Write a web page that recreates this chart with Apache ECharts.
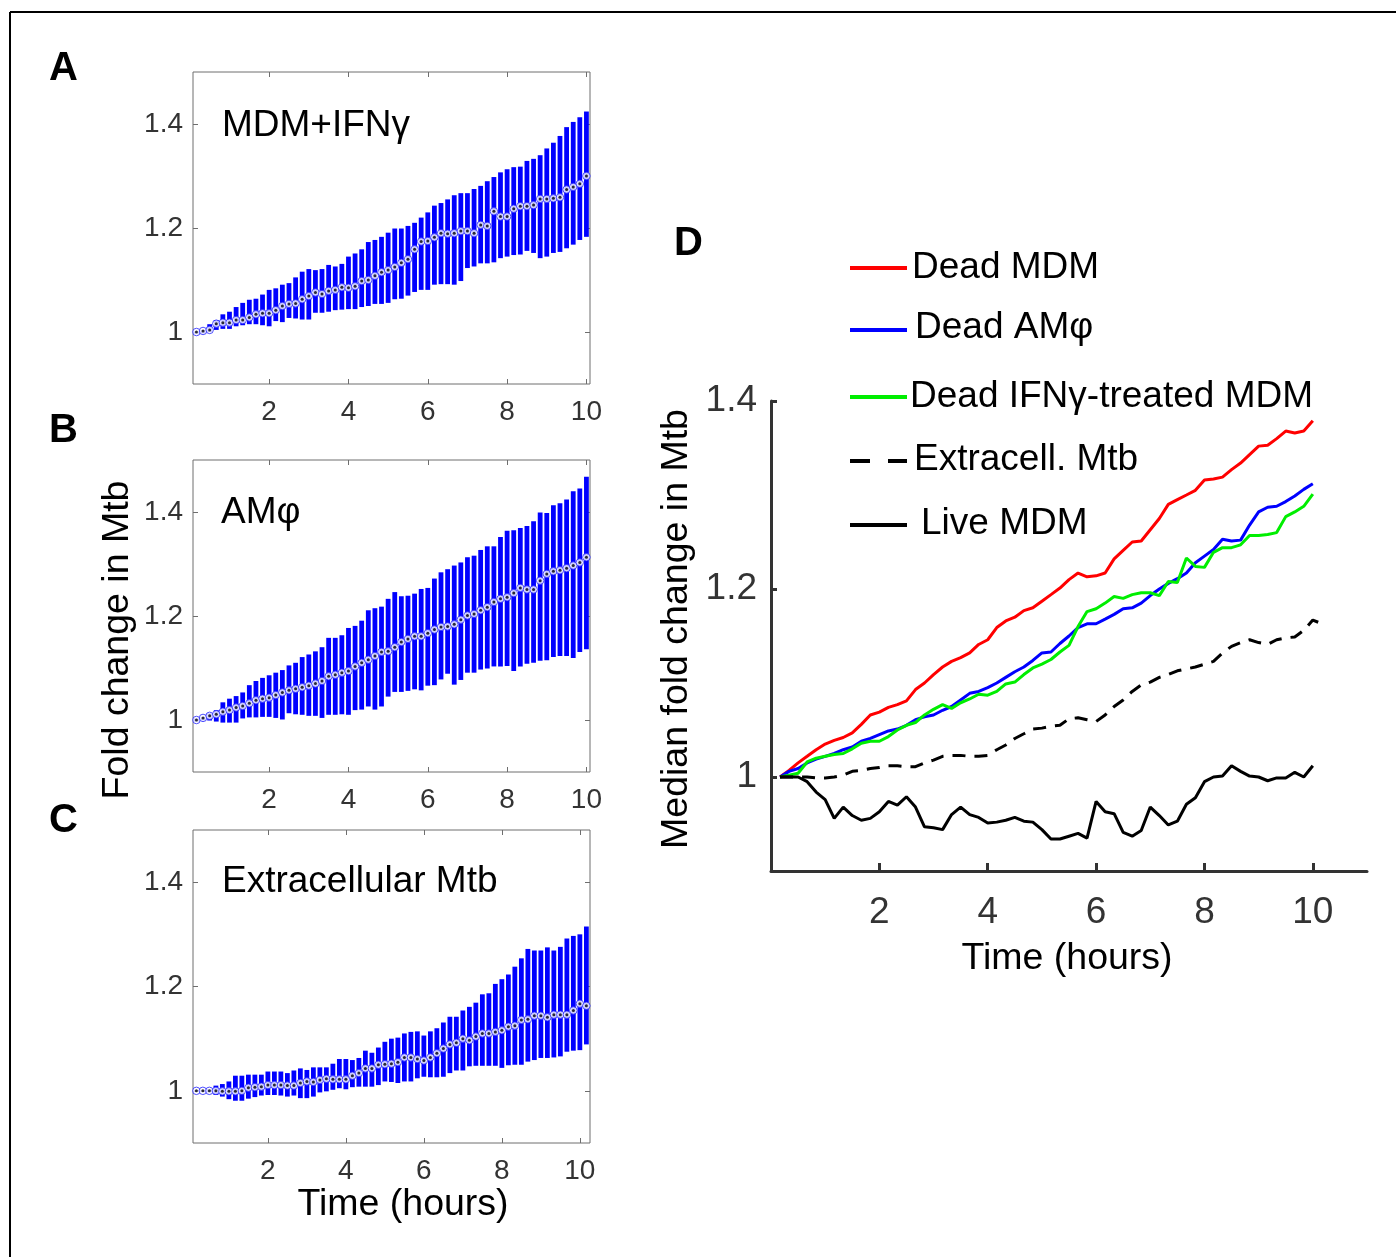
<!DOCTYPE html>
<html>
<head>
<meta charset="utf-8">
<script src="https://cdn.jsdelivr.net/npm/echarts@6/dist/echarts.min.js"></script>
<style>
html,body{margin:0;padding:0;background:#fff;}
#chart{width:1396px;height:1257px;}
</style>
</head>
<body>
<div id="chart"></div>
<script>
// ---------- DATA ----------
const times = [0.167,0.333,0.5,0.667,0.833,1,1.167,1.333,1.5,1.667,1.833,2,2.167,2.333,2.5,2.667,2.833,3,3.167,3.333,3.5,3.667,3.833,4,4.167,4.333,4.5,4.667,4.833,5,5.167,5.333,5.5,5.667,5.833,6,6.167,6.333,6.5,6.667,6.833,7,7.167,7.333,7.5,7.667,7.833,8,8.167,8.333,8.5,8.667,8.833,9,9.167,9.333,9.5,9.667,9.833,10,10.167];
const xTicks = [2,4,6,8,10];
const yTicks = [1,1.2,1.4];

// Panel A: MDM+IFNγ
const aMed = [1.000,1.002,1.004,1.016,1.018,1.018,1.023,1.023,1.028,1.034,
1.036,1.036,1.042,1.050,1.054,1.055,1.063,1.069,1.076,1.073,
1.079,1.081,1.086,1.085,1.088,1.098,1.100,1.108,1.115,1.119,
1.125,1.133,1.140,1.159,1.174,1.175,1.182,1.190,1.189,1.190,
1.194,1.194,1.190,1.206,1.204,1.232,1.222,1.222,1.237,1.242,
1.242,1.244,1.256,1.256,1.257,1.259,1.274,1.279,1.285,1.300];
const aHigh = [1.001,1.004,1.015,1.023,1.034,1.039,1.048,1.056,1.062,1.064,
1.072,1.081,1.084,1.091,1.094,1.105,1.116,1.121,1.119,1.121,
1.129,1.126,1.131,1.145,1.151,1.159,1.173,1.177,1.183,1.191,
1.199,1.199,1.204,1.210,1.220,1.230,1.243,1.248,1.255,1.263,
1.267,1.267,1.275,1.281,1.290,1.298,1.307,1.313,1.317,1.318,
1.329,1.333,1.340,1.353,1.364,1.377,1.394,1.404,1.413,1.424];
const aLow = [0.997,0.997,1.000,1.004,1.006,1.006,1.011,1.013,1.015,1.015,
1.013,1.011,1.021,1.019,1.027,1.026,1.024,1.024,1.037,1.037,
1.039,1.042,1.043,1.044,1.044,1.048,1.050,1.054,1.054,1.056,
1.063,1.064,1.070,1.077,1.081,1.081,1.091,1.092,1.092,1.091,
1.098,1.123,1.126,1.132,1.132,1.134,1.142,1.145,1.148,1.149,
1.156,1.152,1.142,1.145,1.152,1.154,1.161,1.168,1.177,1.183];

// Panel B: AMφ
const bMed = [1.000,1.004,1.008,1.011,1.016,1.019,1.024,1.027,1.032,1.038,
1.041,1.043,1.048,1.053,1.057,1.060,1.063,1.066,1.070,1.075,
1.084,1.087,1.091,1.094,1.103,1.110,1.116,1.123,1.131,1.132,
1.140,1.150,1.156,1.161,1.161,1.167,1.174,1.179,1.180,1.184,
1.193,1.201,1.204,1.211,1.217,1.227,1.233,1.236,1.244,1.254,
1.251,1.251,1.268,1.281,1.286,1.288,1.292,1.297,1.303,1.313];
const bHigh = [1.003,1.006,1.013,1.019,1.034,1.041,1.046,1.053,1.067,1.075,
1.081,1.086,1.091,1.096,1.105,1.110,1.121,1.126,1.132,1.140,
1.158,1.158,1.163,1.177,1.181,1.191,1.211,1.215,1.218,1.233,
1.246,1.238,1.239,1.243,1.252,1.254,1.272,1.284,1.290,1.297,
1.303,1.313,1.316,1.327,1.334,1.334,1.352,1.364,1.365,1.369,
1.373,1.382,1.399,1.398,1.413,1.417,1.424,1.440,1.445,1.468];
const bLow = [0.997,0.999,0.999,0.997,0.995,0.995,0.995,1.003,1.005,1.005,
1.006,1.006,1.004,1.001,1.013,1.011,1.010,1.008,1.008,1.004,
1.010,1.010,1.011,1.010,1.019,1.020,1.026,1.020,1.026,1.045,
1.054,1.054,1.056,1.059,1.057,1.066,1.067,1.078,1.089,1.068,
1.077,1.091,1.091,1.097,1.099,1.103,1.103,1.104,1.094,1.103,
1.108,1.110,1.114,1.115,1.121,1.123,1.123,1.119,1.131,1.136];

// Panel C: Extracellular Mtb
const cMed = [1.000,1.000,1.000,1.000,0.999,0.999,0.999,1.000,1.006,1.007,
1.008,1.011,1.011,1.011,1.010,1.010,1.015,1.018,1.017,1.021,
1.023,1.022,1.022,1.022,1.029,1.034,1.043,1.043,1.050,1.051,
1.052,1.055,1.064,1.064,1.061,1.058,1.064,1.072,1.081,1.089,
1.092,1.100,1.097,1.104,1.110,1.110,1.113,1.116,1.123,1.125,
1.136,1.137,1.144,1.144,1.141,1.146,1.146,1.146,1.154,1.167,
1.163];
const cHigh = [1.001,1.002,1.003,1.010,1.013,1.018,1.029,1.029,1.031,1.031,
1.031,1.037,1.037,1.037,1.034,1.039,1.043,1.040,1.045,1.045,
1.045,1.052,1.061,1.061,1.059,1.063,1.077,1.073,1.083,1.094,
1.100,1.102,1.110,1.113,1.114,1.106,1.114,1.120,1.131,1.142,
1.142,1.154,1.161,1.169,1.185,1.187,1.205,1.214,1.223,1.238,
1.254,1.272,1.269,1.269,1.275,1.269,1.276,1.292,1.297,1.300,
1.315];
const cLow = [0.999,0.998,0.997,0.992,0.989,0.984,0.981,0.981,0.985,0.988,
0.991,0.992,0.992,0.991,0.989,0.991,0.986,0.986,0.989,0.997,
0.999,1.002,1.005,1.003,1.007,1.008,1.008,1.008,1.011,1.018,
1.017,1.015,1.018,1.018,1.024,1.027,1.026,1.026,1.027,1.034,
1.039,1.039,1.047,1.048,1.048,1.048,1.048,1.044,1.049,1.050,
1.050,1.056,1.059,1.063,1.063,1.064,1.066,1.075,1.077,1.078,
1.089];

// Panel D: median fold change
const deadMDM = [1.000,1.007,1.015,1.022,1.029,1.035,1.039,1.042,1.047,1.056,
1.066,1.069,1.074,1.077,1.081,1.093,1.100,1.109,1.117,1.123,
1.127,1.132,1.141,1.146,1.159,1.166,1.170,1.177,1.180,1.187,
1.194,1.201,1.210,1.217,1.213,1.214,1.217,1.232,1.241,1.250,
1.251,1.263,1.275,1.290,1.295,1.300,1.305,1.316,1.317,1.319,
1.327,1.334,1.343,1.352,1.353,1.360,1.368,1.366,1.368,1.379];
const deadAM = [1.000,1.006,1.009,1.015,1.019,1.022,1.025,1.029,1.032,1.038,
1.041,1.045,1.049,1.051,1.055,1.061,1.064,1.066,1.071,1.075,
1.082,1.089,1.091,1.095,1.100,1.106,1.112,1.117,1.124,1.132,
1.133,1.142,1.150,1.159,1.163,1.163,1.168,1.173,1.179,1.180,
1.185,1.193,1.200,1.206,1.211,1.217,1.228,1.235,1.242,1.253,
1.251,1.252,1.268,1.282,1.287,1.288,1.293,1.299,1.306,1.312];
const deadIFN = [1.000,1.002,1.004,1.016,1.020,1.022,1.024,1.025,1.030,1.036,
1.038,1.038,1.043,1.050,1.055,1.058,1.066,1.072,1.077,1.073,
1.079,1.083,1.088,1.087,1.091,1.099,1.101,1.109,1.116,1.120,
1.125,1.133,1.140,1.160,1.176,1.179,1.185,1.192,1.190,1.194,
1.196,1.196,1.193,1.208,1.207,1.233,1.224,1.223,1.239,1.244,
1.244,1.247,1.257,1.257,1.258,1.260,1.277,1.282,1.288,1.301];
const extracell = [1.000,1.000,1.000,1.000,0.999,0.999,1.000,1.002,1.006,1.007,
1.009,1.010,1.012,1.012,1.011,1.011,1.015,1.018,1.022,1.023,
1.023,1.022,1.022,1.023,1.029,1.034,1.041,1.046,1.051,1.052,
1.054,1.055,1.062,1.063,1.061,1.059,1.066,1.075,1.082,1.091,
1.098,1.101,1.106,1.109,1.113,1.115,1.117,1.120,1.123,1.132,
1.139,1.143,1.146,1.143,1.141,1.146,1.148,1.149,1.156,1.167,
1.163];
const liveMDM = [1.000,1.000,1.000,0.995,0.984,0.976,0.956,0.968,0.959,0.954,
0.956,0.963,0.974,0.970,0.979,0.968,0.947,0.946,0.944,0.960,
0.968,0.960,0.957,0.951,0.952,0.954,0.957,0.953,0.952,0.944,
0.934,0.934,0.937,0.940,0.935,0.974,0.963,0.961,0.941,0.937,
0.943,0.968,0.959,0.949,0.953,0.971,0.978,0.995,1.000,1.001,
1.012,1.006,1.001,1.000,0.996,0.999,0.999,1.005,1.000,1.012];

// ---------- CHART ----------
const FONT = "'Liberation Sans', Arial, Helvetica, sans-serif";
const BOXC = '#6e6e6e';
const LABC = '#333333';
const chart = echarts.init(document.getElementById('chart'), null, {renderer: 'canvas'});

function pairs(xs, ys) { return ys.map((v, i) => [xs[i], v]); }
function boxes(xs, lo, hi) { return lo.map((v, i) => [xs[i], v, hi[i]]); }

const panels = [
  {top: 72, height: 312, xmax: 10.09, med: aMed, lo: aLow, hi: aHigh},
  {top: 460, height: 312, xmax: 10.09, med: bMed, lo: bLow, hi: bHigh},
  {top: 830, height: 313, xmax: 10.26, med: cMed, lo: cLow, hi: cHigh}
];

const grids = [], xAxes = [], yAxes = [], series = [];
panels.forEach((p, g) => {
  grids.push({left: 193, top: p.top, width: 397, height: p.height, show: true,
    borderColor: BOXC, borderWidth: 1, backgroundColor: 'transparent'});
  ['bottom', 'top'].forEach((pos) => {
    xAxes.push({type: 'value', gridIndex: g, position: pos, min: 0.08, max: p.xmax,
      axisLine: {show: false}, splitLine: {show: false},
      axisTick: {show: true, inside: true, length: 5, customValues: xTicks, lineStyle: {color: BOXC, width: 1}},
      axisLabel: {show: pos === 'bottom', customValues: xTicks, fontSize: 28, color: LABC, fontFamily: FONT, margin: 14}});
  });
  ['left', 'right'].forEach((pos) => {
    yAxes.push({type: 'value', gridIndex: g, position: pos, min: 0.9, max: 1.5,
      axisLine: {show: false}, splitLine: {show: false},
      axisTick: {show: true, inside: true, length: 5, customValues: yTicks, lineStyle: {color: BOXC, width: 1}},
      axisLabel: {show: pos === 'left', customValues: yTicks, fontSize: 28, color: LABC, fontFamily: FONT, margin: 10}});
  });
  const xi = g * 2, yi = g * 2;
  series.push({
    type: 'custom', xAxisIndex: xi, yAxisIndex: yi, silent: true,
    data: boxes(times, p.lo, p.hi),
    encode: {x: 0, y: [1, 2]},
    renderItem: function (params, api) {
      const x = api.value(0), lo = api.value(1), hi = api.value(2);
      const pTop = api.coord([x, hi]);
      const pBot = api.coord([x, lo]);
      return {type: 'rect', shape: {x: pTop[0] - 2.4, y: pTop[1], width: 4.8, height: Math.max(pBot[1] - pTop[1], 1)},
        style: {fill: '#0000ff'}};
    },
    z: 2
  });
  series.push({type: 'scatter', xAxisIndex: xi, yAxisIndex: yi, silent: true,
    data: pairs(times, p.med), symbol: 'circle', symbolSize: 7.5,
    itemStyle: {color: '#ffffff', borderColor: '#2020ff', borderWidth: 1}, z: 3});
  series.push({type: 'scatter', xAxisIndex: xi, yAxisIndex: yi, silent: true,
    data: pairs(times, p.med), symbol: 'circle', symbolSize: 3,
    itemStyle: {color: '#000000'}, z: 4});
});

// Panel D
grids.push({left: 771, top: 401, width: 596, height: 470, show: false});
xAxes.push({type: 'value', gridIndex: 3, min: 0, max: 11,
  axisLine: {show: true, onZero: false, lineStyle: {color: '#333', width: 3}},
  splitLine: {show: false},
  axisTick: {show: true, inside: true, length: 8, customValues: xTicks, lineStyle: {color: '#333', width: 3}},
  axisLabel: {customValues: xTicks, fontSize: 37, color: LABC, fontFamily: FONT, margin: 23}});
yAxes.push({type: 'value', gridIndex: 3, min: 0.9, max: 1.4,
  axisLine: {show: true, onZero: false, lineStyle: {color: '#333', width: 3}},
  splitLine: {show: false},
  axisTick: {show: true, inside: true, length: 6, customValues: yTicks, lineStyle: {color: '#333', width: 3}},
  axisLabel: {customValues: yTicks, fontSize: 37, color: LABC, fontFamily: FONT, margin: 14}});

const dSeries = [
  {name: 'Dead MDM', data: deadMDM, color: '#ff0000', type: 'solid'},
  {name: 'Dead AMφ', data: deadAM, color: '#0000ff', type: 'solid'},
  {name: 'Dead IFNγ-treated MDM', data: deadIFN, color: '#00ee00', type: 'solid'},
  {name: 'Extracell. Mtb', data: extracell, color: '#000000', type: [13, 9]},
  {name: 'Live MDM', data: liveMDM, color: '#000000', type: 'solid'}
];
dSeries.forEach((s) => {
  series.push({type: 'line', name: s.name, xAxisIndex: 6, yAxisIndex: 6,
    data: pairs(times, s.data), showSymbol: false, symbol: 'none', silent: true,
    lineStyle: {color: s.color, width: 3, type: s.type}, z: 3});
});

// ---------- GRAPHIC TEXT ----------
function txt(s, x, y, size, opt) {
  opt = opt || {};
  return {type: 'text', x: x, y: y, rotation: opt.rot || 0, z: 10, silent: true,
    style: {text: s, fill: opt.color || '#000', font: (opt.bold ? 'bold ' : '') + size + 'px ' + FONT,
      align: opt.align || 'left', verticalAlign: 'middle'}};
}
function hline(x1, x2, y, color, dash) {
  return {type: 'line', z: 10, silent: true, shape: {x1: x1, y1: y, x2: x2, y2: y},
    style: {stroke: color, lineWidth: 4, lineDash: dash || null}};
}
const graphic = [
  {type: 'line', silent: true, shape: {x1: 10, y1: 12, x2: 1396, y2: 12}, style: {stroke: '#000', lineWidth: 2}},
  {type: 'line', silent: true, shape: {x1: 10, y1: 12, x2: 10, y2: 1257}, style: {stroke: '#000', lineWidth: 2}},
  txt('A', 49, 69, 40, {bold: true}),
  txt('B', 49, 431, 40, {bold: true}),
  txt('C', 49, 821, 40, {bold: true}),
  txt('D', 674, 244, 40, {bold: true}),
  txt('MDM+IFNγ', 222, 126, 37),
  txt('AMφ', 221, 513, 37),
  txt('Extracellular Mtb', 222, 882, 37),
  txt('Fold change in Mtb', 118, 640, 37.5, {rot: Math.PI / 2, align: 'center'}),
  txt('Time (hours)', 403, 1205, 37.5, {align: 'center'}),
  txt('Median fold change in Mtb', 677, 629, 37.5, {rot: Math.PI / 2, align: 'center'}),
  txt('Time (hours)', 1067, 959, 37.5, {align: 'center'}),
  hline(850, 907, 268, '#ff0000'),
  txt('Dead MDM', 912, 268, 37),
  hline(850, 907, 330, '#0000ff'),
  txt('Dead AMφ', 915, 328, 37),
  hline(850, 907, 397, '#00ee00'),
  txt('Dead IFNγ-treated MDM', 910, 397, 37),
  hline(850, 907, 461, '#000', [20, 18]),
  txt('Extracell. Mtb', 914, 460, 37),
  hline(850, 907, 525, '#000'),
  txt('Live MDM', 921, 524, 37)
];

chart.setOption({
  animation: false,
  backgroundColor: '#ffffff',
  grid: grids,
  xAxis: xAxes,
  yAxis: yAxes,
  series: series,
  graphic: graphic
});
</script>
</body>
</html>
